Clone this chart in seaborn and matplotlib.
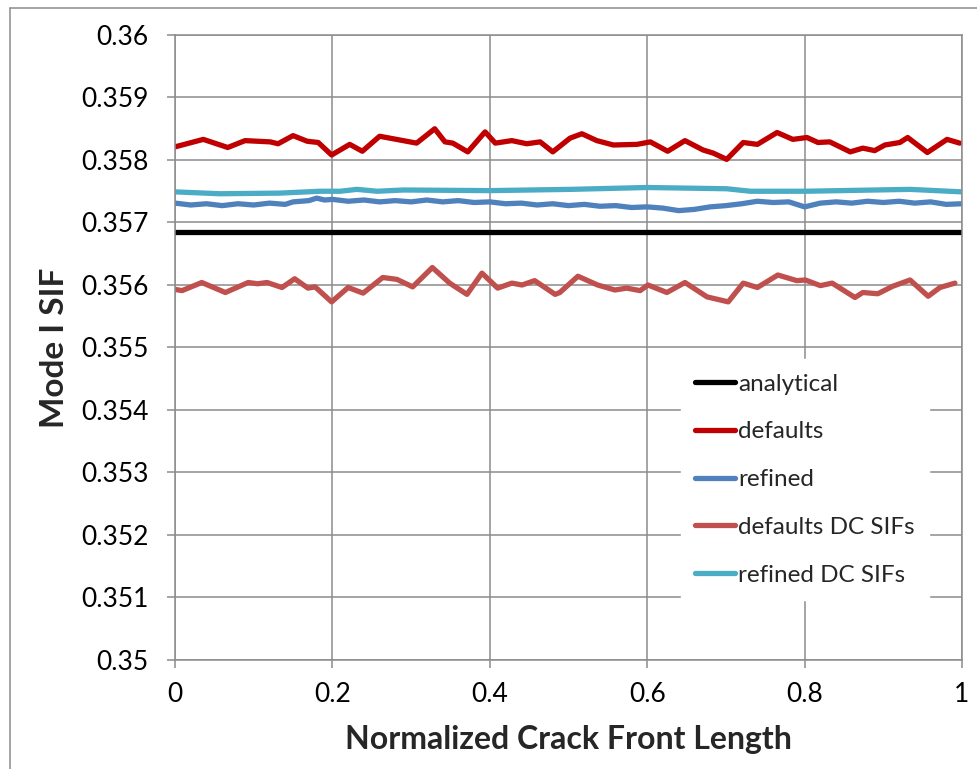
import matplotlib
matplotlib.use("Agg")
import matplotlib.pyplot as plt
import seaborn as sns
import pandas as pd
from matplotlib.lines import Line2D

# data
analytical_x = [0.0, 1.0]
analytical_y = [0.35685, 0.35685]

defaults_x = [0.0, 0.036, 0.067, 0.089, 0.121, 0.131, 0.150, 0.168, 0.182, 0.199,
              0.222, 0.238, 0.260, 0.307, 0.330, 0.343, 0.353, 0.372, 0.394, 0.407,
              0.428, 0.447, 0.464, 0.480, 0.502, 0.517, 0.536, 0.557, 0.587, 0.604,
              0.626, 0.648, 0.671, 0.684, 0.701, 0.722, 0.740, 0.765, 0.785, 0.803,
              0.817, 0.832, 0.858, 0.874, 0.889, 0.902, 0.921, 0.931, 0.956, 0.981, 0.997]
defaults_y = [0.35821, 0.35833, 0.35820, 0.35831, 0.35829, 0.35826, 0.35839, 0.35830, 0.35828, 0.35808,
              0.35825, 0.35814, 0.35838, 0.35827, 0.35850, 0.35829, 0.35827, 0.35813, 0.35845, 0.35827,
              0.35831, 0.35826, 0.35829, 0.35813, 0.35835, 0.35842, 0.35831, 0.35824, 0.35825, 0.35829,
              0.35814, 0.35831, 0.35816, 0.35811, 0.35801, 0.35828, 0.35825, 0.35844, 0.35833, 0.35836,
              0.35828, 0.35829, 0.35813, 0.35819, 0.35815, 0.35824, 0.35828, 0.35836, 0.35812, 0.35833, 0.35827]

refined_x = [0.00, 0.02, 0.04, 0.06, 0.08, 0.10, 0.12, 0.14, 0.15, 0.17, 0.18, 0.19,
             0.20, 0.22, 0.24, 0.26, 0.28, 0.30, 0.32, 0.34, 0.36, 0.38,
             0.40, 0.42, 0.44, 0.46, 0.48, 0.50, 0.52, 0.54, 0.56, 0.58,
             0.60, 0.62, 0.64, 0.66, 0.68, 0.70, 0.72, 0.74, 0.76, 0.78,
             0.80, 0.82, 0.84, 0.86, 0.88, 0.90, 0.92, 0.94, 0.96, 0.98, 1.00]
refined_y = [0.35731, 0.35728, 0.35730, 0.35727, 0.35730, 0.35728, 0.35731, 0.35729, 0.35733, 0.35735, 0.35739, 0.35736,
             0.35737, 0.35734, 0.35736, 0.35733, 0.35735, 0.35733, 0.35736, 0.35733, 0.35735, 0.35732,
             0.35733, 0.35730, 0.35731, 0.35728, 0.35730, 0.35727, 0.35729, 0.35726, 0.35727, 0.35724,
             0.35725, 0.35723, 0.35719, 0.35721, 0.35725, 0.35727, 0.35730, 0.35734, 0.35732, 0.35733,
             0.35725, 0.35731, 0.35733, 0.35731, 0.35734, 0.35732, 0.35734, 0.35731, 0.35733, 0.35729, 0.35730]

dc_defaults_x = [0.0, 0.009, 0.034, 0.064, 0.093, 0.105, 0.117, 0.136, 0.152, 0.169,
                 0.178, 0.199, 0.220, 0.239, 0.264, 0.282, 0.302, 0.327, 0.349, 0.371,
                 0.390, 0.410, 0.428, 0.441, 0.457, 0.483, 0.489, 0.512, 0.537, 0.559,
                 0.574, 0.591, 0.601, 0.625, 0.648, 0.676, 0.703, 0.722, 0.740, 0.766,
                 0.790, 0.801, 0.820, 0.835, 0.864, 0.874, 0.893, 0.912, 0.934, 0.957, 0.972, 0.991]
dc_defaults_y = [0.35593, 0.35591, 0.35604, 0.35588, 0.35604, 0.35602, 0.35604, 0.35596, 0.35610, 0.35595,
                 0.35597, 0.35573, 0.35596, 0.35587, 0.35612, 0.35609, 0.35597, 0.35628, 0.35603, 0.35585,
                 0.35619, 0.35595, 0.35603, 0.35600, 0.35607, 0.35585, 0.35588, 0.35614, 0.35600, 0.35592,
                 0.35595, 0.35591, 0.35600, 0.35588, 0.35604, 0.35581, 0.35573, 0.35603, 0.35596, 0.35616,
                 0.35607, 0.35608, 0.35599, 0.35603, 0.35580, 0.35588, 0.35586, 0.35598, 0.35608, 0.35582, 0.35596, 0.35603]

dc_refined_x = [0.0, 0.057, 0.133, 0.184, 0.210, 0.231, 0.257, 0.290, 0.400, 0.502,
                0.600, 0.701, 0.731, 0.801, 0.934, 1.0]
dc_refined_y = [0.35749, 0.35746, 0.35747, 0.35750, 0.35750, 0.35753, 0.35750, 0.35752, 0.35751, 0.35753,
                0.35756, 0.35754, 0.35750, 0.35750, 0.35753, 0.35749]

series = [
    ("analytical", analytical_x, analytical_y, "#000000"),
    ("defaults", defaults_x, defaults_y, "#C00000"),
    ("refined", refined_x, refined_y, "#4F81BD"),
    ("defaults DC SIFs", dc_defaults_x, dc_defaults_y, "#C0504D"),
    ("refined DC SIFs", dc_refined_x, dc_refined_y, "#4BACC6"),
]

sns.set_style("white")
plt.rcParams['font.family'] = ['Lato', 'DejaVu Sans']

fig = plt.figure(figsize=(9.77, 7.69), dpi=100)
ax = fig.add_axes([175 / 977, 109 / 769, 787 / 977, 625 / 769])

for name, xs, ys, color in series:
    df = pd.DataFrame({"x": xs, "y": ys})
    sns.lineplot(data=df, x="x", y="y", ax=ax, color=color, linewidth=3.8,
                 estimator=None, sort=False, label=name,
                 solid_capstyle="round", solid_joinstyle="round")

ax.set_xlim(0, 1)
ax.set_ylim(0.35, 0.36)
ax.set_xticks([0, 0.2, 0.4, 0.6, 0.8, 1.0])
ax.set_xticklabels(["0", "0.2", "0.4", "0.6", "0.8", "1"])
ax.set_yticks([0.35 + 0.001 * i for i in range(11)])
ax.set_yticklabels(["0.35", "0.351", "0.352", "0.353", "0.354", "0.355",
                    "0.356", "0.357", "0.358", "0.359", "0.36"])
ax.grid(True, color="#8C8C8C", linewidth=1.1)
ax.set_axisbelow(True)
for sp in ax.spines.values():
    sp.set_color("#8C8C8C")
    sp.set_linewidth(1.1)
ax.tick_params(axis="both", direction="out", length=5.5, width=1.1, color="#8C8C8C",
               labelsize=19, labelcolor="#000000")
ax.tick_params(axis="y", pad=13.5, left=True)
ax.tick_params(axis="x", pad=10, bottom=True)

ax.set_xlabel("Normalized Crack Front Length", fontsize=23, fontweight="bold")
ax.set_ylabel("Mode I SIF", fontsize=24, fontweight="bold")
ax.xaxis.set_label_coords(0.5, -0.104)
ax.yaxis.set_label_coords(-0.135, 0.5)

handles = [Line2D([0], [0], color=c, linewidth=3.8, solid_capstyle="round") for _, _, _, c in series]
labels = [n for n, _, _, _ in series]
leg = ax.legend(handles, labels, loc="upper left", bbox_to_anchor=(0.627, 0.501),
                fontsize=17.5, frameon=True, fancybox=False, handlelength=1.65,
                handletextpad=0.12, labelspacing=1.1, borderpad=0.6)
leg.get_frame().set_facecolor("white")
leg.get_frame().set_edgecolor("white")
leg.get_frame().set_alpha(1)

# chart-area border (Excel style)
fig.add_artist(Line2D([9.5 / 977, 9.5 / 977], [0, 1 - 7.5 / 769], transform=fig.transFigure,
                      color="#8C8C8C", linewidth=1.1))
fig.add_artist(Line2D([9.5 / 977, 1], [1 - 7.5 / 769, 1 - 7.5 / 769], transform=fig.transFigure,
                      color="#8C8C8C", linewidth=1.1))

fig.savefig("out.png", dpi=100)
